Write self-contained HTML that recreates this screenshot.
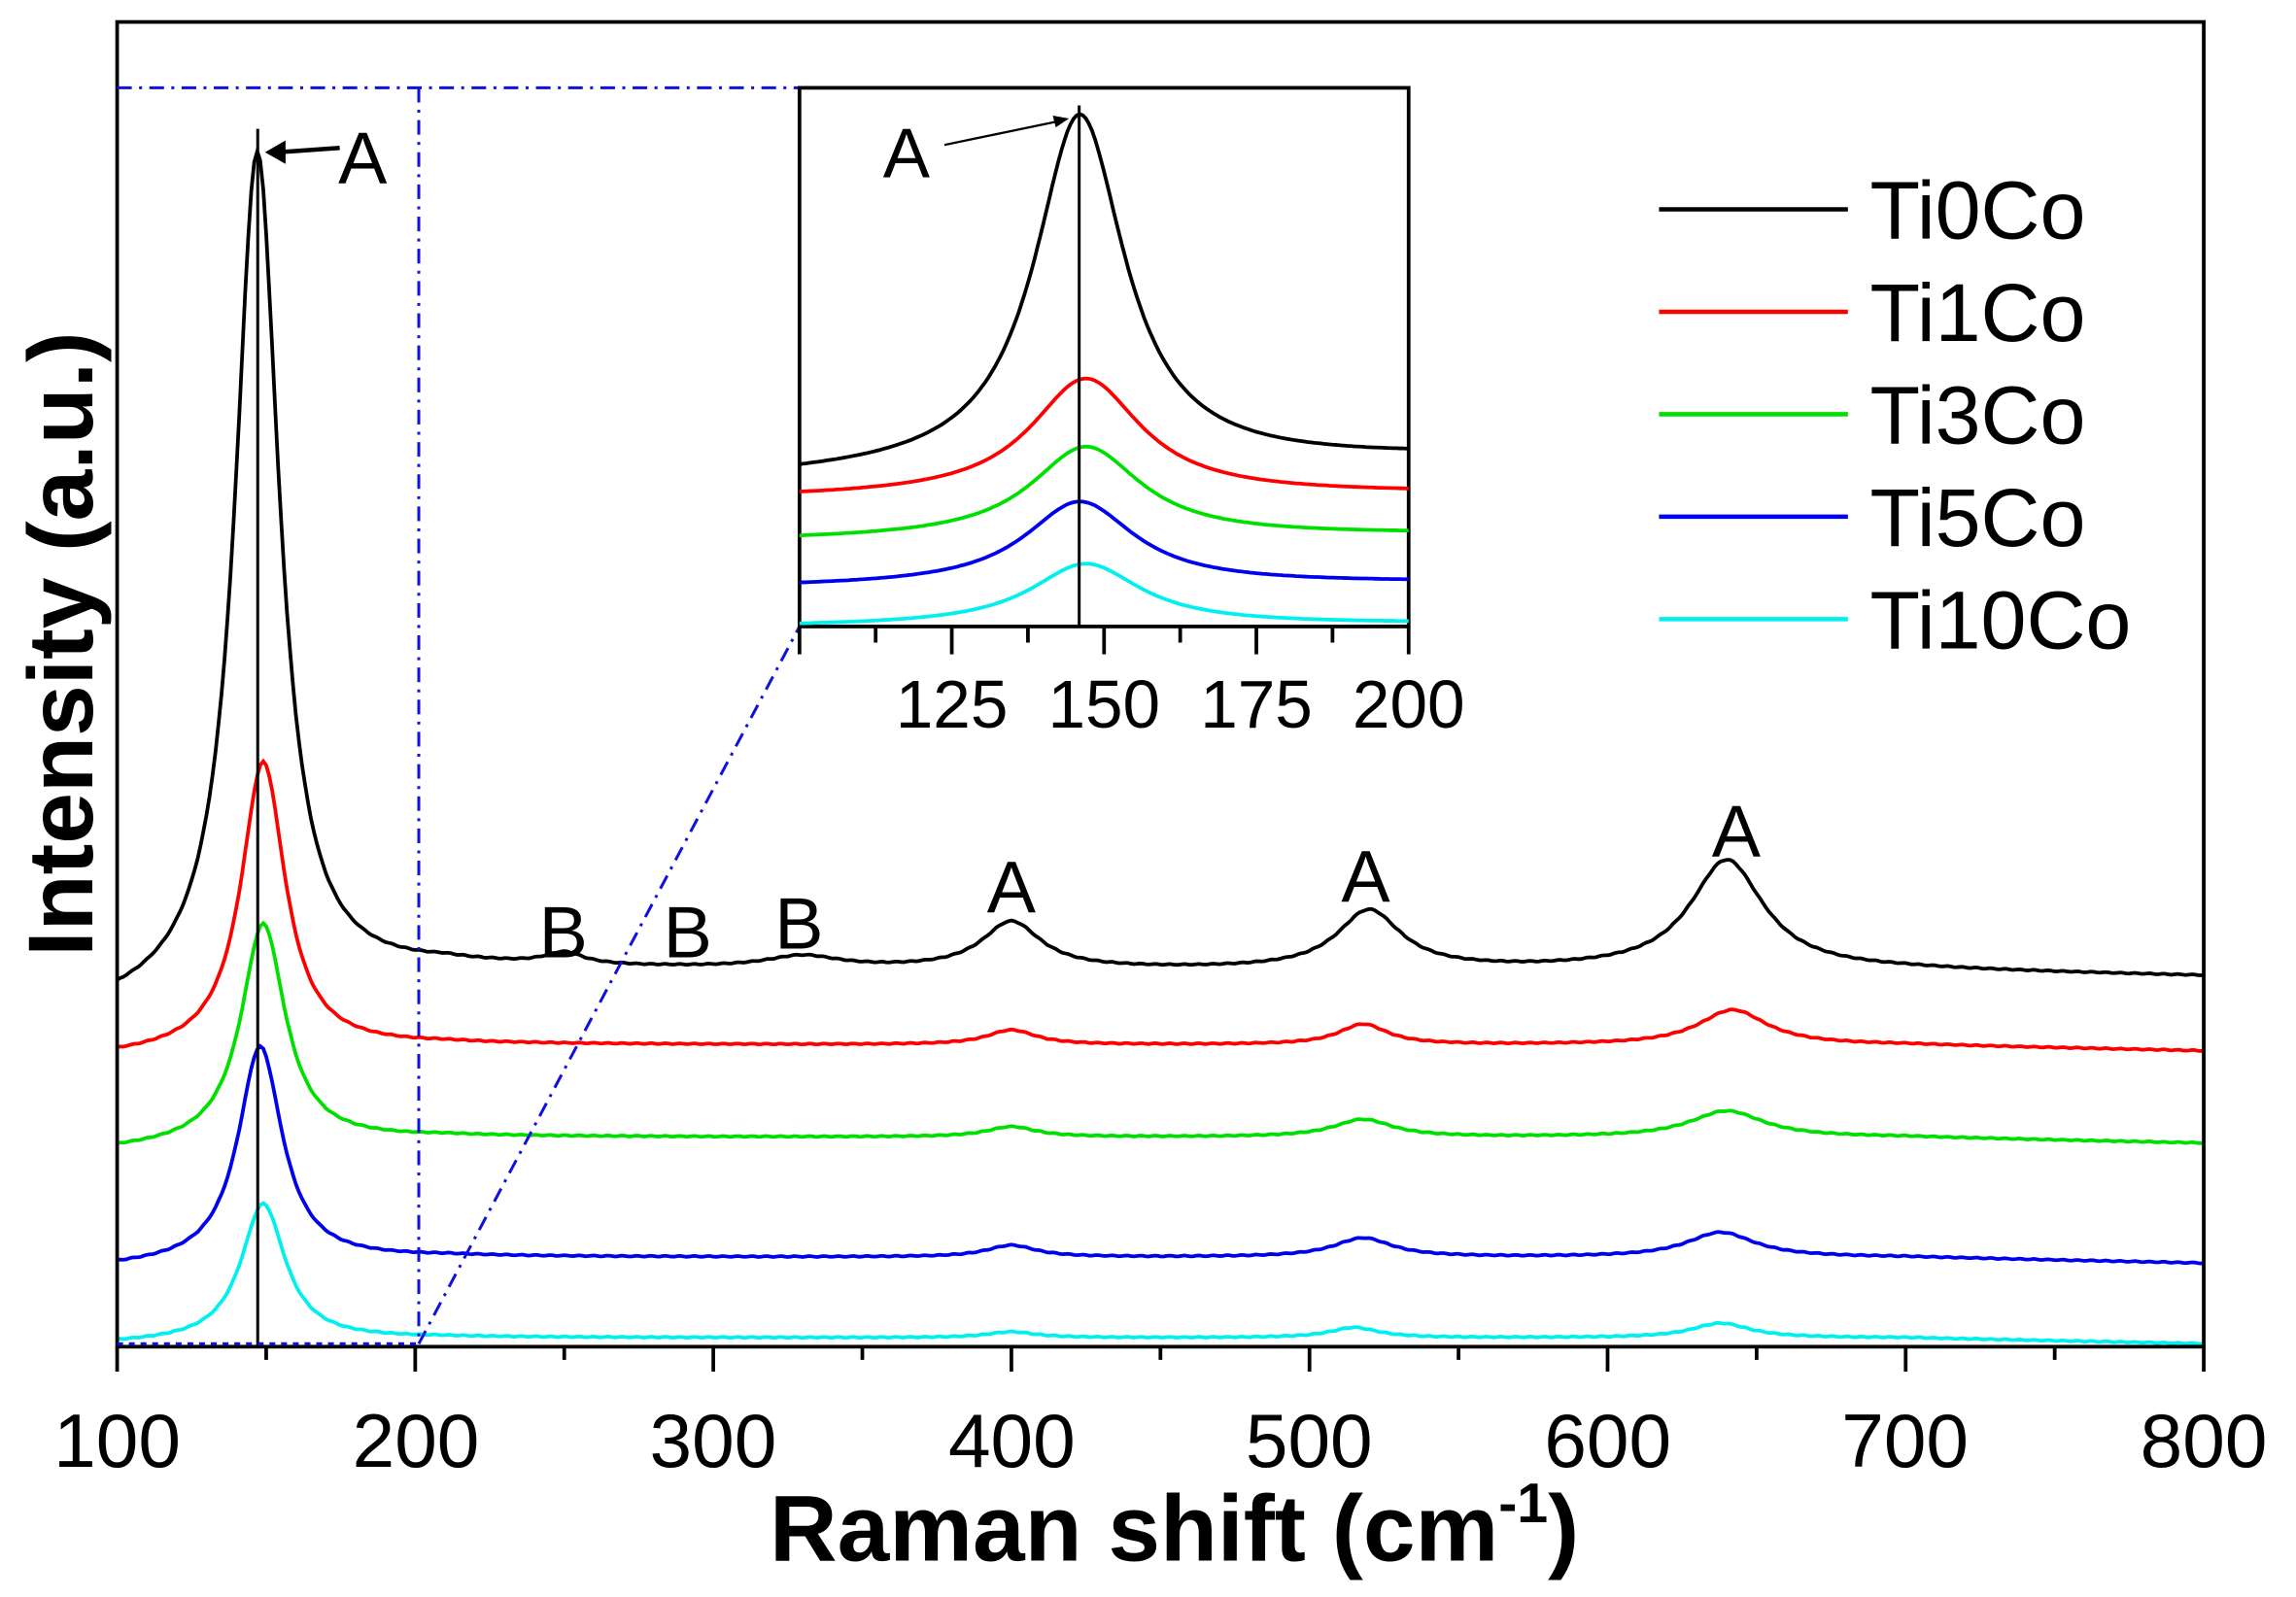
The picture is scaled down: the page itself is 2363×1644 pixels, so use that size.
<!DOCTYPE html>
<html><head><meta charset="utf-8"><style>
html,body{margin:0;padding:0;background:#fff}
svg{display:block}
text{font-family:"Liberation Sans",Arial,sans-serif}
</style></head><body>
<svg id="s" width="2363" height="1644" viewBox="0 0 1568 1091" preserveAspectRatio="none" xmlns="http://www.w3.org/2000/svg">
<rect x="0" y="0" width="1568" height="1091" fill="#fff"/>
<g id="curves"></g>
<rect x="80" y="15" width="1425" height="905" fill="none" stroke="#000" stroke-width="2.5"/>
<g id="ticks" stroke="#000" stroke-width="2.5"></g>
<line x1="176" y1="88" x2="176" y2="920" stroke="#000" stroke-width="2"/>
<g stroke="#1010e0" stroke-width="2" fill="none" stroke-dasharray="10,5,2,5">
<line x1="80" y1="60" x2="546" y2="60"/>
<line x1="286" y1="60" x2="286" y2="918"/>
<line x1="286" y1="918" x2="546" y2="428"/>
<line x1="80" y1="918" x2="286" y2="918" stroke-dasharray="4,4"/>
</g>
<rect x="546" y="60" width="416" height="368" fill="#fff" stroke="#000" stroke-width="2.5"/>
<g id="icurves"></g>
<line x1="737" y1="72" x2="737" y2="428" stroke="#000" stroke-width="2"/>
<g id="iticks" stroke="#000" stroke-width="2.5"></g>
<g font-size="46" text-anchor="middle" fill="#000">
<text x="650" y="497">125</text><text x="754" y="497">150</text><text x="858" y="497">175</text><text x="962" y="497">200</text>
</g>
<text x="603" y="121" font-size="48">A</text>
<line x1="645" y1="99" x2="722" y2="83" stroke="#000" stroke-width="1.5"/>
<polygon points="730,81 719,79 721,87" fill="#000"/>
<g font-size="50" fill="#000">
<text x="231" y="125">A</text>
<text x="368" y="654">B</text><text x="453" y="654">B</text><text x="529" y="648">B</text>
<text x="674" y="623">A</text><text x="916" y="616">A</text><text x="1169" y="585">A</text>
</g>
<line x1="232" y1="101" x2="190" y2="104" stroke="#000" stroke-width="3"/>
<polygon points="181,104 195,96 195,112" fill="#000"/>
<g font-size="52" text-anchor="middle" fill="#000">
<text x="80" y="1002">100</text><text x="284" y="1002">200</text><text x="487" y="1002">300</text><text x="691" y="1002">400</text><text x="894" y="1002">500</text><text x="1098" y="1002">600</text><text x="1301" y="1002">700</text><text x="1505" y="1002">800</text>
</g>
<text x="802" y="1066" font-size="64" font-weight="bold" text-anchor="middle">Raman shift (cm<tspan font-size="38" dy="-26">-1</tspan><tspan dy="26">)</tspan></text>
<text transform="translate(63,440) rotate(-90)" font-size="63" font-weight="bold" text-anchor="middle">Intensity (a.u.)</text>
<g stroke-width="3">
<line x1="1133" y1="143" x2="1262" y2="143" stroke="#000"/>
<line x1="1133" y1="213" x2="1262" y2="213" stroke="#ff0000"/>
<line x1="1133" y1="283" x2="1262" y2="283" stroke="#00e000"/>
<line x1="1133" y1="353" x2="1262" y2="353" stroke="#0000ee"/>
<line x1="1133" y1="423" x2="1262" y2="423" stroke="#00f0f0"/>
</g>
<g font-size="56" fill="#000">
<text x="1277" y="163">Ti0Co</text><text x="1277" y="233">Ti1Co</text><text x="1277" y="303">Ti3Co</text><text x="1277" y="373">Ti5Co</text><text x="1277" y="443">Ti10Co</text>
</g>
<script>
var NS="http://www.w3.org/2000/svg";
function L(x,c,g){return 1/(1+((x-c)/g)*((x-c)/g));}
function mk(g,d,col,w){var p=document.createElementNS(NS,"path");p.setAttribute("d",d);p.setAttribute("stroke",col);p.setAttribute("fill","none");p.setAttribute("stroke-width",w);document.getElementById(g).appendChild(p);}
function ln(g,x1,y1,x2,y2){var p=document.createElementNS(NS,"line");p.setAttribute("x1",x1);p.setAttribute("y1",y1);p.setAttribute("x2",x2);p.setAttribute("y2",y2);document.getElementById(g).appendChild(p);}
var X=function(v){return 80+(v-100)*1425/700;};
var S=[
["#000",690,663,575,147,9,[[250,8,8],[330,8,15],[400,32,12],[520,40,13],[640,75,15]]],
["#ff0000",722,714,198,149,9,[[400,10,10],[518,14,10],[642,24,14]]],
["#00e000",786,777,151,149,9,[[400,7,10],[518,12,12],[640,18,15]]],
["#0000ee",866,859,148,148,9,[[400,8,10],[518,13,12],[638,17,14]]],
["#00f0f0",918,914,94,149,9,[[400,4,10],[515,7,10],[638,10,12]]]
];
S.forEach(function(s){
 var d="";
 for(var v=100;v<=800;v+=1){
  var t=Math.max(0,Math.min(1,(v-100)/110));
  var b=s[1]+(s[2]-s[1])*t;
  var y=b-s[3]*L(v,s[4],s[5]);
  s[6].forEach(function(k){y-=k[1]*L(v,k[0],k[2]);});
  if(v>700)y+=(v-700)*0.04;
  y+=Math.sin(v*1.3)*0.3;
  d+=(v==100?"M":"L")+X(v).toFixed(1)+","+y.toFixed(1);
 }
 mk("curves",d,s[0],2.5);
});
var XI=function(v){return 546+(v-100)*4.16;};
var I=[["#000",326,313,242,146,9],["#ff0000",340,337,80,147,11],["#00e000",369,365,62,147,11],["#0000ee",401,398,57,146,11],["#00f0f0",428,426,42,147,11]];
I.forEach(function(s){
 var d="";
 for(var v=100;v<=200;v+=0.5){
  var b=s[1]+(s[2]-s[1])*(v-100)/100;
  var y=b-s[3]*L(v,s[4],s[5]);
  y=Math.min(y,427);
  d+=(v==100?"M":"L")+XI(v).toFixed(1)+","+y.toFixed(1);
 }
 mk("icurves",d,s[0],2.5);
});
for(var v=100;v<=800;v+=50){var x=X(v);ln("ticks",x,920,x,(v%100==0?937:929));}
for(var v=100;v<=200;v+=12.5){var x=XI(v);ln("iticks",x,428,x,(v%25==0?447:439));}
</script>
</svg>
</body></html>
